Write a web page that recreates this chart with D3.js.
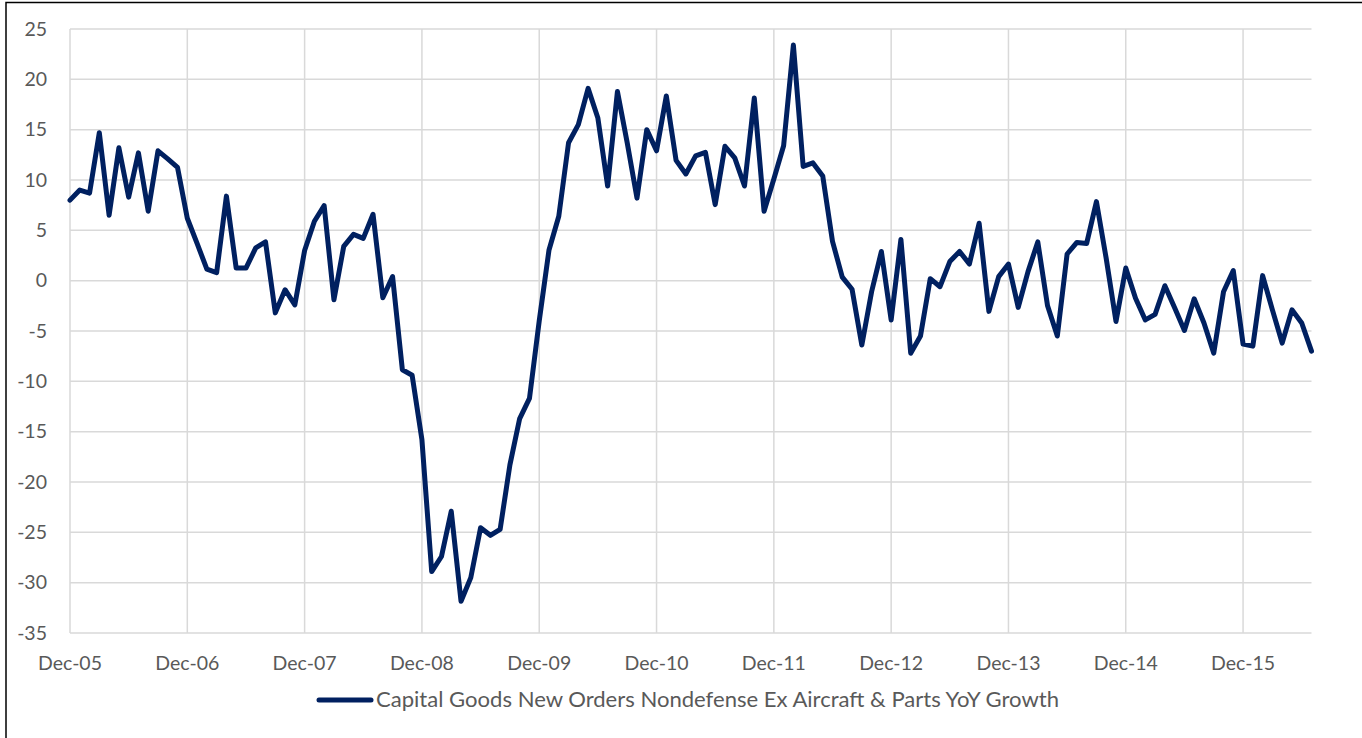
<!DOCTYPE html>
<html><head><meta charset="utf-8">
<script src="https://cdn.jsdelivr.net/npm/d3@7"></script>
<style>
html,body{margin:0;padding:0;background:#fff;}
svg{display:block;}
text{font-family:Lato,"Open Sans",sans-serif;fill:#595959;}
</style></head>
<body><svg id="chart" width="1362" height="738"></svg>
<script>
// ---- data ----
const startMonth = "2005-12";
const seriesName = "Capital Goods New Orders Nondefense Ex Aircraft & Parts YoY Growth";
const values = [
 8.0, 9.0, 8.7, 14.7, 6.5, 13.2, 8.3, 12.7, 6.9, 12.9, 12.1, 11.25,
 6.2, 3.7, 1.15, 0.8, 8.4, 1.25, 1.25, 3.25, 3.85, -3.2, -0.9, -2.4,
 3.0, 5.9, 7.45, -1.9, 3.4, 4.6, 4.2, 6.6, -1.7, 0.4, -8.85, -9.4,
 -15.8, -28.9, -27.4, -22.9, -31.85, -29.5, -24.55, -25.3, -24.7, -18.3, -13.7, -11.7,
 -4.0, 3.05, 6.4, 13.7, 15.5, 19.1, 16.15, 9.4, 18.8, 13.7, 8.2, 15.0,
 12.9, 18.35, 11.95, 10.6, 12.4, 12.75, 7.55, 13.35, 12.2, 9.4, 18.15, 6.9,
 10.1, 13.4, 23.4, 11.35, 11.7, 10.4, 3.9, 0.35, -0.85, -6.4, -1.1, 2.9,
 -3.9, 4.1, -7.2, -5.5, 0.2, -0.6, 1.9, 2.9, 1.65, 5.7, -3.05, 0.4,
 1.65, -2.65, 0.9, 3.85, -2.5, -5.5, 2.65, 3.8, 3.7, 7.85, 2.2, -4.05,
 1.25, -1.75, -3.9, -3.35, -0.5, -2.7, -4.95, -1.8, -4.2, -7.2, -1.1, 1.0,
 -6.3, -6.5, 0.5, -2.9, -6.2, -2.9, -4.2, -7.0
];
const yTicks = [25, 20, 15, 10, 5, 0, -5, -10, -15, -20, -25, -30, -35];
const xTickLabels = ["Dec-05","Dec-06","Dec-07","Dec-08","Dec-09","Dec-10","Dec-11","Dec-12","Dec-13","Dec-14","Dec-15"];

// category labels (one per month)
const fmt = d3.utcFormat("%b-%y");
const start = d3.utcParse("%Y-%m")(startMonth);
const categories = values.map((v, i) => fmt(d3.utcMonth.offset(start, i)));

// ---- layout ----
const svg = d3.select("#chart");
const L = 70, R = 1311.5, T = 29, B = 633;
const x = d3.scalePoint().domain(categories).range([L, R]);
const y = d3.scaleLinear().domain([-35, 25]).range([B, T]);

// border
svg.append("rect").attr("x", 6).attr("y", 2.5).attr("width", 1400).attr("height", 800)
  .attr("fill", "none").attr("stroke", "#000").attr("stroke-width", 1.5);

const grid = "#d9d9d9";
svg.append("g").selectAll("line").data(yTicks).join("line")
  .attr("x1", L).attr("x2", R).attr("y1", d => y(d)).attr("y2", d => y(d))
  .attr("stroke", grid).attr("stroke-width", 1.5);
svg.append("g").selectAll("line").data(xTickLabels).join("line")
  .attr("x1", d => x(d)).attr("x2", d => x(d)).attr("y1", T).attr("y2", B)
  .attr("stroke", grid).attr("stroke-width", 1.5);

svg.append("g").selectAll("text").data(yTicks).join("text")
  .attr("x", 47).attr("y", d => y(d)).attr("dy", "0.35em")
  .attr("text-anchor", "end").attr("font-size", 19.5)
  .text(d => d);
svg.append("g").selectAll("text").data(xTickLabels).join("text")
  .attr("x", d => x(d)).attr("y", 663).attr("dy", "0.35em")
  .attr("text-anchor", "middle").attr("font-size", 19.5)
  .text(d => d);

const line = d3.line().x((d, i) => x(categories[i])).y(d => y(d));
svg.append("path").datum(values).attr("d", line)
  .attr("fill", "none").attr("stroke", "#002060").attr("stroke-width", 5)
  .attr("stroke-linejoin", "round").attr("stroke-linecap", "round");

const lg = svg.append("g");
lg.append("line").attr("x1", 319).attr("x2", 371).attr("y1", 700).attr("y2", 700)
  .attr("stroke", "#002060").attr("stroke-width", 5).attr("stroke-linecap", "round");
lg.append("text").attr("x", 376).attr("y", 700).attr("dy", "0.35em")
  .attr("font-size", 21).attr("textLength", 683).attr("lengthAdjust", "spacingAndGlyphs")
  .text(seriesName);
</script></body></html>
